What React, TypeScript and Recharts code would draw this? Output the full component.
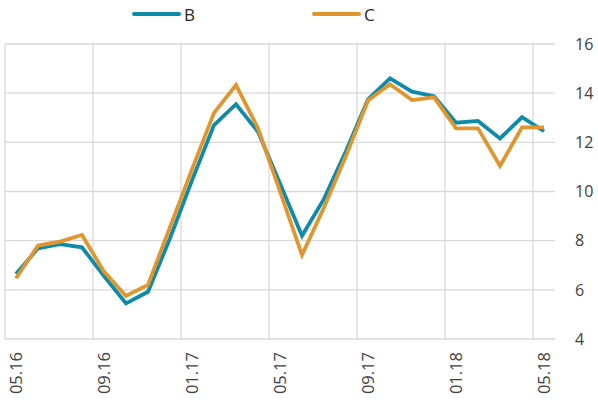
import React from "react";
import { LineChart, Line, XAxis, YAxis, ReferenceLine } from "recharts";

const months = [
  "05.16", "06.16", "07.16", "08.16", "09.16", "10.16", "11.16", "12.16",
  "01.17", "02.17", "03.17", "04.17", "05.17", "06.17", "07.17", "08.17",
  "09.17", "10.17", "11.17", "12.17", "01.18", "02.18", "03.18", "04.18", "05.18",
];
const seriesB = [
  6.64, 7.69, 7.86, 7.73, 6.56, 5.45, 5.92, 8.1, 10.45, 12.7, 13.55, 12.43, 10.33,
  8.2, 9.7, 11.65, 13.75, 14.6, 14.06, 13.88, 12.8, 12.87, 12.16, 13.02, 12.45,
];
const seriesC = [
  6.47, 7.8, 7.96, 8.23, 6.74, 5.75, 6.2, 8.55, 10.9, 13.2, 14.33, 12.57, 10.0,
  7.42, 9.35, 11.45, 13.7, 14.36, 13.72, 13.83, 12.57, 12.57, 11.04, 12.61, 12.61,
];
const boundaryTicks = [0, 4, 8, 12, 16, 20, 24];
const labelTicks = boundaryTicks.map((t) => t + 0.5);
const yTicks = [4, 6, 8, 10, 12, 14, 16];
const X_DOMAIN_MAX = months.length;

const BLUE = "#0E8BA8";
const ORANGE = "#E0952F";
const GRID = "#d9d9d9";
const FONT = "'Open Sans', sans-serif";

const data = months.map((m, i) => ({ pos: i + 0.5, label: m, B: seriesB[i], C: seriesC[i] }));

const XLabel = (props: any) => {
  const { x, y, payload } = props;
  const idx = Math.floor(payload.value);
  return (
    <text
      x={x}
      y={y}
      transform={`rotate(-90, ${x}, ${y})`}
      textAnchor="end"
      dy="0.35em"
      fill="#404040"
      fontSize={16.5}
      fontFamily={FONT}
    >
      {months[idx]}
    </text>
  );
};

const EmptyTick = () => <g />;

const LegendItem = ({ color, name, left }: { color: string; name: string; left: number }) => (
  <div style={{ position: "absolute", left, top: 2, display: "flex", alignItems: "center", height: 24 }}>
    <svg width={52} height={24}>
      <line x1={2} y1={12} x2={47} y2={12} stroke={color} strokeWidth={4} strokeLinecap="round" />
    </svg>
    <span style={{ fontFamily: FONT, fontSize: 17, color: "#262626", marginLeft: 0 }}>{name}</span>
  </div>
);

export default function App() {
  return (
    <div style={{ position: "absolute", left: 0, top: 0, width: 598, height: 407, background: "#fff" }}>
      <LegendItem color={BLUE} name="B" left={132} />
      <LegendItem color={ORANGE} name="C" left={312} />
      <LineChart width={598} height={407} data={data} margin={{ top: 44, right: 0, bottom: 0, left: 5 }}>
        {yTicks.map((v) => (
          <ReferenceLine key={"h" + v} xAxisId="ticks" y={v} stroke={GRID} strokeWidth={1.3} />
        ))}
        {boundaryTicks.map((t) => (
          <ReferenceLine key={"v" + t} xAxisId="ticks" x={t} stroke={GRID} strokeWidth={1.3} />
        ))}
        <XAxis
          xAxisId="ticks"
          type="number"
          dataKey="pos"
          domain={[0, X_DOMAIN_MAX]}
          ticks={boundaryTicks}
          height={0}
          tick={<EmptyTick />}
          tickSize={7}
          tickLine={{ stroke: "#808080", strokeWidth: 1.3 }}
          axisLine={{ stroke: "#808080", strokeWidth: 1.3 }}
          interval={0}
          allowDataOverflow
        />
        <XAxis
          xAxisId="labels"
          type="number"
          dataKey="pos"
          domain={[0, X_DOMAIN_MAX]}
          ticks={labelTicks}
          height={68}
          tickLine={false}
          axisLine={false}
          tickSize={6}
          tickMargin={7}
          tick={<XLabel />}
          interval={0}
        />
        <YAxis
          orientation="right"
          domain={[4, 16]}
          ticks={yTicks}
          width={43}
          axisLine={false}
          tickLine={false}
          tickMargin={14}
          tick={{ fill: "#404040", fontSize: 16, fontFamily: FONT }}
          interval={0}
        />
        <Line xAxisId="ticks" dataKey="B" stroke={BLUE} strokeWidth={3.8} dot={false} isAnimationActive={false} />
        <Line xAxisId="ticks" dataKey="C" stroke={ORANGE} strokeWidth={3.8} dot={false} isAnimationActive={false} />
      </LineChart>
    </div>
  );
}
